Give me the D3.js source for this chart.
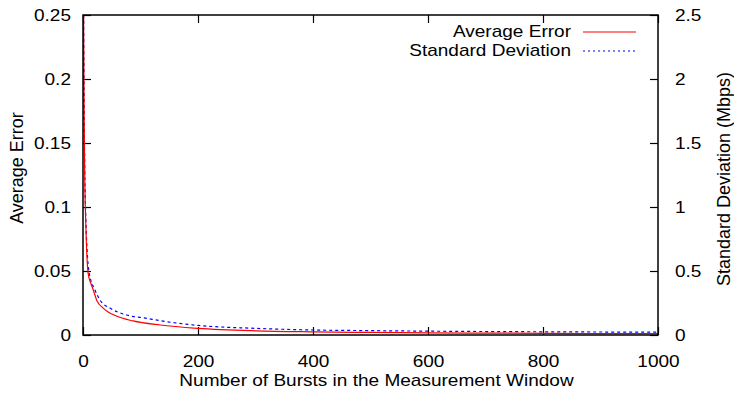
<!DOCTYPE html>
<html>
<head>
<meta charset="utf-8">
<script src="https://cdn.jsdelivr.net/npm/d3@7"></script>
<style>
  body { margin: 0; background: #fff; }
  text { font-family: "Liberation Sans", Arial, sans-serif; font-size: 17px; fill: #000; }
</style>
</head>
<body>
<div id="vis"></div>
<script>
//-- Setup
var width = 734;
var height = 394;
var margin = { left: 83, right: 76, top: 15, bottom: 59 };
var sx = 1.12; // text in the picture is a bit wider than Liberation Sans

// data
var errBursts = [1, 2, 3, 5, 9, 14, 18, 24, 35, 58, 87, 134, 200, 300, 400, 500, 600, 800, 1000];
var avgError = [0.25, 0.17, 0.125, 0.085, 0.048, 0.04, 0.035, 0.027, 0.021, 0.0148, 0.011, 0.0078, 0.0052, 0.0033, 0.0025, 0.002, 0.0017, 0.0013, 0.001];
var stdBursts = [1, 2, 3, 5, 8, 11, 21, 30, 47, 76, 111, 134, 200, 300, 400, 500, 600, 800, 1000];
var stdDev = [2.5, 1.75, 1.3, 0.9, 0.6, 0.48, 0.35, 0.27, 0.21, 0.156, 0.13, 0.112, 0.075, 0.052, 0.039, 0.034, 0.03, 0.025, 0.022];

var xTicks = [0, 200, 400, 600, 800, 1000];
var yTicks = [0, 0.05, 0.1, 0.15, 0.2, 0.25];
var y2Ticks = [0, 0.5, 1, 1.5, 2, 2.5];

var svg = d3.select("#vis").append("svg")
  .attr("width", width)
  .attr("height", height);

var x = d3.scaleLinear().domain([0, 1000]).range([margin.left, width - margin.right]);
var y = d3.scaleLinear().domain([0, 0.25]).range([height - margin.bottom, margin.top]);
var y2 = d3.scaleLinear().domain([0, 2.5]).range([height - margin.bottom, margin.top]);

var tickLen = 8;

function stretch(sel) {
  sel.each(function () {
    var t = d3.select(this);
    var tx = +t.attr("x") || 0;
    t.attr("x", tx / sx).attr("transform", "scale(" + sx + ",1)");
  });
}

// ticks, gnuplot style (inward)
svg.append("g")
  .attr("transform", "translate(0," + y.range()[0] + ")")
  .call(d3.axisBottom(x).tickValues(xTicks).tickSize(-tickLen).tickPadding(20).tickFormat(d3.format("d")))
  .call(function (g) { g.select(".domain").remove(); });

svg.append("g")
  .attr("transform", "translate(0," + y.range()[1] + ")")
  .call(d3.axisTop(x).tickValues(xTicks).tickSize(-tickLen).tickFormat(""))
  .call(function (g) { g.select(".domain").remove(); });

svg.append("g")
  .attr("transform", "translate(" + x.range()[0] + ",0)")
  .call(d3.axisLeft(y).tickValues(yTicks).tickSize(-tickLen).tickPadding(12).tickFormat(function (d) { return String(d); }))
  .call(function (g) { g.select(".domain").remove(); });

svg.append("g")
  .attr("transform", "translate(" + x.range()[1] + ",0)")
  .call(d3.axisRight(y2).tickValues(y2Ticks).tickSize(-tickLen).tickPadding(17).tickFormat(function (d) { return String(d); }))
  .call(function (g) { g.select(".domain").remove(); });

svg.selectAll(".tick line").attr("stroke", "#000").attr("stroke-width", 1.2);
svg.selectAll(".tick text").attr("font-size", null).attr("font-family", null).call(stretch);

// clip
svg.append("clipPath").attr("id", "clip")
  .append("rect")
  .attr("x", x.range()[0]).attr("y", y.range()[1])
  .attr("width", x.range()[1] - x.range()[0])
  .attr("height", y.range()[0] - y.range()[1]);

var lineErr = d3.line()
  .x(function (d, i) { return x(errBursts[i]); })
  .y(function (d) { return y(d); })
  .curve(d3.curveMonotoneX);

var lineStd = d3.line()
  .x(function (d, i) { return x(stdBursts[i]); })
  .y(function (d) { return y2(d); })
  .curve(d3.curveMonotoneX);

svg.append("path")
  .datum(stdDev)
  .attr("clip-path", "url(#clip)")
  .attr("fill", "none")
  .attr("stroke", "#0000ff")
  .attr("stroke-width", 1.2)
  .attr("stroke-dasharray", "3,3")
  .attr("d", lineStd);

svg.append("path")
  .datum(avgError)
  .attr("clip-path", "url(#clip)")
  .attr("fill", "none")
  .attr("stroke", "#ff0000")
  .attr("stroke-width", 1.2)
  .attr("d", lineErr);

// border
svg.append("rect")
  .attr("x", x.range()[0]).attr("y", y.range()[1])
  .attr("width", x.range()[1] - x.range()[0])
  .attr("height", y.range()[0] - y.range()[1])
  .attr("fill", "none")
  .attr("stroke", "#000")
  .attr("stroke-width", 1.5);

// legend
var legend = [
  { name: "Average Error", color: "#ff0000", dash: null },
  { name: "Standard Deviation", color: "#0000ff", dash: "2,3" }
];
legend.forEach(function (d, i) {
  var ly = 32 + i * 19;
  svg.append("text")
    .attr("x", 571).attr("y", ly + 5)
    .attr("text-anchor", "end")
    .text(d.name)
    .call(stretch);
  svg.append("line")
    .attr("x1", 583).attr("x2", 636)
    .attr("y1", ly).attr("y2", ly)
    .attr("stroke", d.color)
    .attr("stroke-width", 1.2)
    .attr("stroke-dasharray", d.dash);
});

// axis titles
svg.append("text")
  .attr("x", (x.range()[0] + x.range()[1]) / 2 + 6)
  .attr("y", 386)
  .attr("text-anchor", "middle")
  .text("Number of Bursts in the Measurement Window")
  .call(stretch);

svg.append("text")
  .attr("transform", "translate(23,168) rotate(-90)")
  .attr("text-anchor", "middle")
  .style("font-size", "18px")
  .text("Average Error");

svg.append("text")
  .attr("transform", "translate(730,179) rotate(-90)")
  .attr("text-anchor", "middle")
  .style("font-size", "18px")
  .text("Standard Deviation (Mbps)");
</script>
</body>
</html>
